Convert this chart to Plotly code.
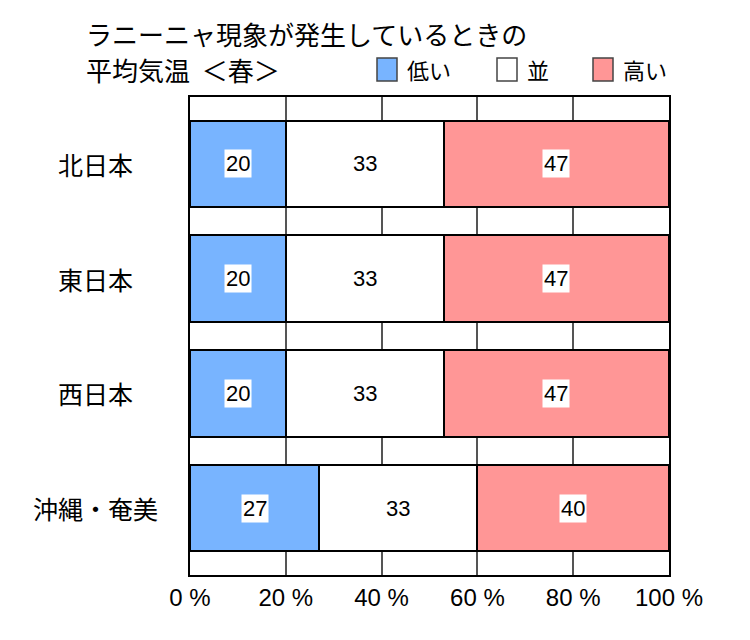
import plotly.graph_objects as go

categories = ["北日本", "東日本", "西日本", "沖縄・奄美"]
series_names = ["低い", "並", "高い"]
low = [20, 20, 20, 27]
normal = [33, 33, 33, 33]
high = [47, 47, 47, 40]
colors = ["#78B4FF", "#FFFFFF", "#FF9696"]
tick_vals = [0, 20, 40, 60, 80, 100]
tick_text = ["0 %", "20 %", "40 %", "60 %", "80 %", "100 %"]
title1 = "ラニーニャ現象が発生しているときの"
title2 = "平均気温\u00a0 ＜春＞"

JP = "Noto Sans CJK JP, Liberation Sans, sans-serif"
NUM = "Liberation Sans, Arial, sans-serif"

# page has an 8px body margin; work in screen pixels and convert
OFF = 8
W, H = 734, 624
L, T = 190 - OFF, 97 - OFF
R = W - (669 - OFF)
B = H - (575 - OFF)
pw, ph = W - L - R, H - T - B

def px2x(sx):
    return (sx - OFF - L) / pw

def py2y(sy):
    return 1 - (sy - OFF - T) / ph

fig = go.Figure()
values = [low, normal, high]
for name, vals, col in zip(series_names, values, colors):
    fig.add_trace(go.Bar(
        y=categories, x=vals, name=name, orientation="h",
        marker=dict(color=col, line=dict(color="black", width=2)),
        width=0.75, showlegend=False, hoverinfo="x+name",
    ))

annotations = []
for i, cat in enumerate(categories):
    start = 0
    for k, vals in enumerate(values):
        v = vals[i]
        annotations.append(dict(
            x=start + v / 2, y=cat, xref="x", yref="y", text=str(v),
            showarrow=False, font=dict(family=NUM, size=22, color="black"),
            bgcolor="white", borderpad=1,
        ))
        start += v
    annotations.append(dict(
        x=px2x(95), y=cat, xref="paper", yref="y", text=cat, showarrow=False,
        xanchor="center", font=dict(family=JP, size=25, color="black"),
    ))

for txt, sy in [(title1, 33), (title2, 70)]:
    annotations.append(dict(x=px2x(84), y=py2y(sy), xref="paper", yref="paper",
                            text=txt, showarrow=False, xanchor="left", yanchor="middle",
                            font=dict(family=JP, size=26, color="black")))

shapes = []
legend_x = [377, 497, 593]
for name, col, lx in zip(series_names, colors, legend_x):
    shapes.append(dict(type="rect", xref="paper", yref="paper",
                       x0=px2x(lx), x1=px2x(lx + 20), y0=py2y(58), y1=py2y(81),
                       fillcolor=col, line=dict(color="#444444", width=1.5)))
    annotations.append(dict(x=px2x(lx + 28), y=py2y(69), xref="paper", yref="paper",
                            text=name, showarrow=False, xanchor="left", yanchor="middle",
                            font=dict(family=JP, size=22, color="black")))

fig.update_layout(
    width=W, height=H,
    margin=dict(l=L, r=R, t=T, b=B, pad=0),
    barmode="stack",
    plot_bgcolor="white", paper_bgcolor="white",
    annotations=annotations, shapes=shapes,
    xaxis=dict(range=[0, 100], tickvals=tick_vals, ticktext=tick_text,
               showgrid=True, gridcolor="#555555", gridwidth=1.5,
               showline=True, linecolor="black", linewidth=2, mirror=True,
               tickfont=dict(family=NUM, size=24, color="black"), ticks="",
               zeroline=False, fixedrange=True),
    yaxis=dict(range=[3.58, -0.58], showticklabels=False, showgrid=False,
               showline=True, linecolor="black", linewidth=2, mirror=True,
               ticks="", zeroline=False, fixedrange=True),
    showlegend=False,
)

fig.write_html("out.html")
